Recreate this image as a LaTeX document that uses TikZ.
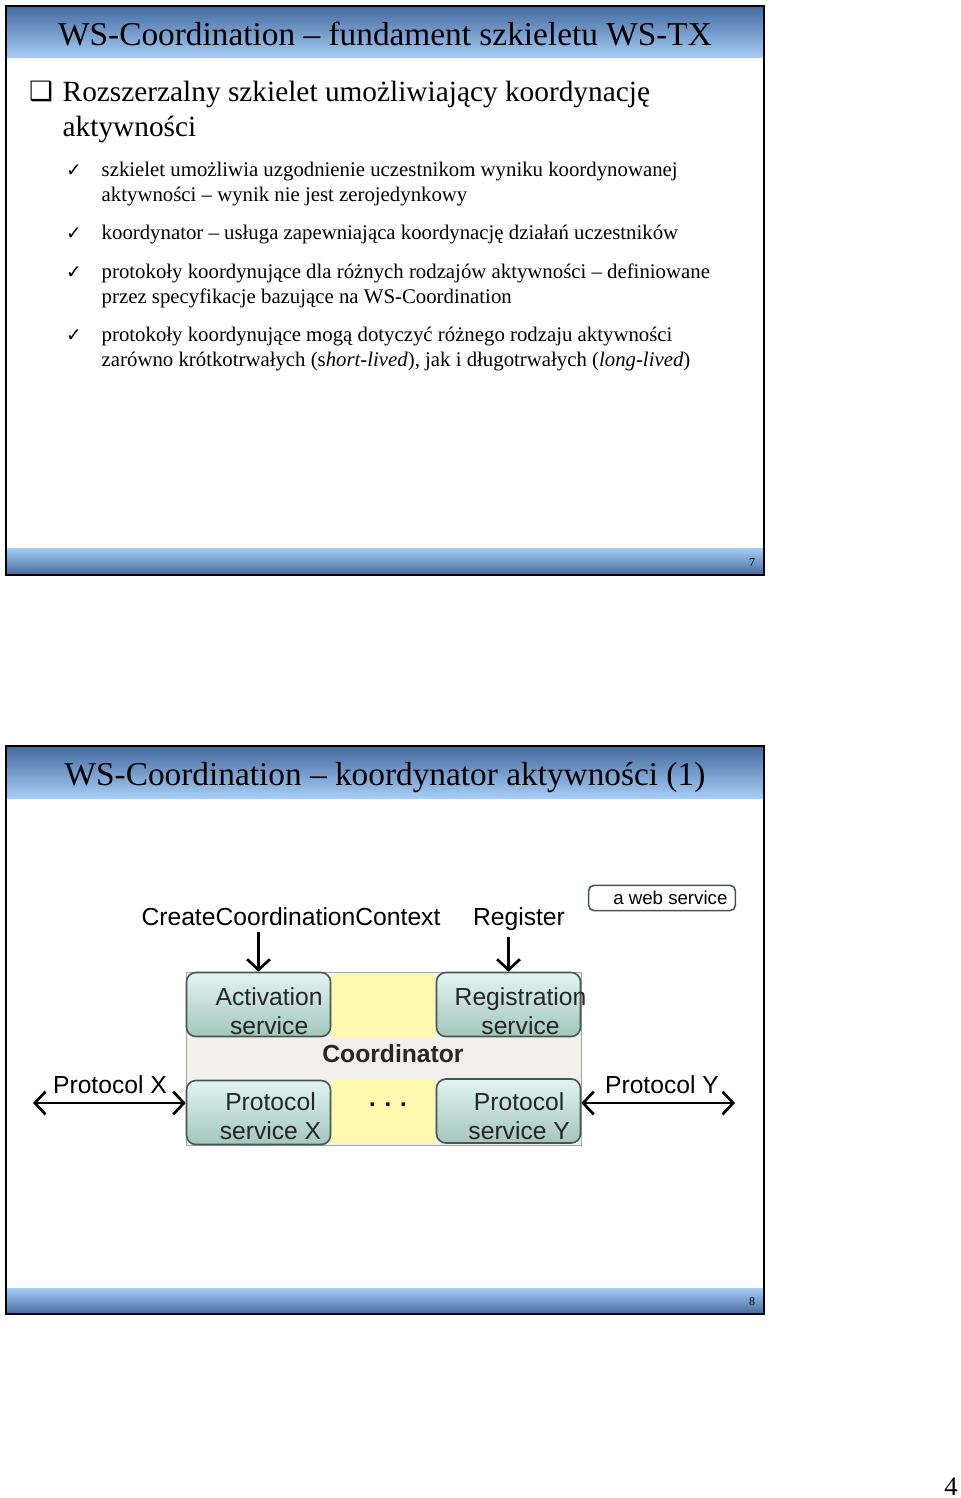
\documentclass[tikz,border=0pt]{standalone}
\usepackage{fontspec}
\setmainfont{Liberation Serif}
\newfontfamily\diafont{Liberation Sans}
\newfontfamily\symfont{DejaVu Sans}
\usetikzlibrary{arrows.meta,positioning,calc}
\definecolor{bardark}{HTML}{44699F}
\definecolor{barlight}{HTML}{A6CDF6}
\definecolor{boxtop}{HTML}{E2F4F3}
\definecolor{boxbot}{HTML}{A3C6BD}
\definecolor{boxline}{HTML}{46564F}
\definecolor{coordfill}{HTML}{F1F0EC}
\definecolor{coordyellow}{HTML}{FDF8AE}

\begin{document}
\begin{tikzpicture}[x=0.75pt,y=-0.75pt,
  frame/.style={draw=black, line width=1.6pt},
  ttl/.style={anchor=base, font=\fontsize{25}{28}\selectfont},
  mainpt/.style={anchor=base west, align=left, font=\fontsize{22}{26.25}\selectfont},
  subpt/.style={anchor=base west, align=left, font=\fontsize{15.6}{18.75}\selectfont},
  tick/.style={anchor=base, font=\symfont\fontsize{14}{16}\selectfont},
  pagenum/.style={anchor=base, font=\fontsize{9}{10}\selectfont},
  svc/.style={draw=boxline, line width=1.2pt, rounded corners=7pt, top color=boxtop, bottom color=boxbot, minimum width=108pt, minimum height=48pt},
  svctxt/.style={align=center, text=black!85, font=\diafont\fontsize{18.5}{21.75}\selectfont},
  lbl/.style={anchor=base, font=\diafont\fontsize{18.5}{22}\selectfont},
  arr/.style={-{Straight Barb[length=2.8mm,width=6mm]}, line width=2pt},
  dbl/.style={{Straight Barb[length=2.8mm,width=6mm]}-{Straight Barb[length=2.8mm,width=6mm]}, line width=2pt}
]
  \useasboundingbox (0,0) rectangle (960,1498);

  % slide 7
  \shade[top color=bardark, bottom color=barlight] (6,6) rectangle (764,58);
  \shade[top color=barlight, bottom color=bardark] (6,548) rectangle (764,575);
  \draw[frame] (6,6) rectangle (764,575);
  \node[ttl] (title1) at (385,46) {WS-Coordination -- fundament szkieletu WS-TX};
  \node[anchor=base, font=\symfont\fontsize{20}{22}\selectfont] (sq) at (41,101) {❑};
  \node[mainpt] (main1) at (58,137) {Rozszerzalny szkielet umożliwiający koordynację\\aktywności};
  \node[tick] (t1) at (74,177) {✓};
  \node[subpt] (s1) at (97,202) {szkielet umożliwia uzgodnienie uczestnikom wyniku koordynowanej\\aktywności -- wynik nie jest zerojedynkowy};
  \node[tick] (t2) at (74,240) {✓};
  \node[subpt] (s2) at (97,240) {koordynator -- usługa zapewniająca koordynację działań uczestników};
  \node[tick] (t3) at (74,278) {✓};
  \node[subpt] (s3) at (97,303) {protokoły koordynujące dla różnych rodzajów aktywności -- definiowane\\przez specyfikacje bazujące na WS-Coordination};
  \node[tick] (t4) at (74,341) {✓};
  \node[subpt] (s4) at (97,366) {protokoły koordynujące mogą dotyczyć różnego rodzaju aktywności\\zarówno krótkotrwałych (s\textit{hort-lived}), jak i długotrwałych (\textit{long-lived})};
  \node[pagenum] (p7) at (752,566) {7};

  % slide 8
  \shade[top color=bardark, bottom color=barlight] (6,746) rectangle (764,798);
  \shade[top color=barlight, bottom color=bardark] (6,1288) rectangle (764,1314);
  \draw[frame] (6,746) rectangle (764,1314);
  \node[ttl] (title2) at (385,785) {WS-Coordination -- koordynator aktywności (1)};
  \node[pagenum] (p8) at (752,1305) {8};

  % coordinator
  \filldraw[fill=coordfill, draw=gray!70] (186,972) rectangle (581,1145);
  \fill[coordyellow] (331,973) rectangle (436,1037);
  \fill[coordyellow] (331,1080) rectangle (436,1144);
  \node[svc] (act) at (258.5,1004.5) {};
  \node[svc] (reg) at (508.5,1004.5) {};
  \node[svc] (psx) at (258.5,1112.5) {};
  \node[svc] (psy) at (508.5,1111) {};
  \node[svctxt] (acttxt) at ([xshift=8,yshift=-5]act) {Activation\\service};
  \node[svctxt] (regtxt) at ([xshift=9,yshift=-5]reg) {Registration\\service};
  \node[svctxt] (psxtxt) at ([xshift=9,yshift=-3]psx) {Protocol\\service X};
  \node[svctxt] (psytxt) at ([xshift=8,yshift=-4]psy) {Protocol\\service Y};
  \node[font=\diafont\bfseries\fontsize{18.5}{20}\selectfont, text=black!85] (coord) at (393,1054) {Coordinator};
  \node[font=\diafont\bfseries\fontsize{18}{20}\selectfont] (dots) at (388,1105) {. . .};

  % messages
  \node[lbl] (ccc) at (291,925) {CreateCoordinationContext};
  \node[lbl] (regmsg) at (519,925) {Register};
  \draw[arr] (ccc.south -| act) ++(0,2) coordinate (ccctop) (ccctop) -- (act.north);
  \draw[arr] (regmsg.south -| reg) ++(0,2) coordinate (regtop) (regtop) -- (reg.north);
  \node[lbl] (protx) at (110,1093) {Protocol X};
  \node[lbl] (proty) at (662,1093) {Protocol Y};
  \coordinate (xend) at (33,1103);
  \coordinate (yend) at (735,1103);
  \draw[dbl] (xend) -- (xend -| psx.west);
  \draw[dbl] (yend -| psy.east) -- (yend);

  % legend
  \node[draw=boxline, line width=1.2pt, rounded corners=4pt, minimum width=110pt, minimum height=19pt] (legend) at (662,898) {};
  \node[font=\diafont\fontsize{14}{15}\selectfont, anchor=east] (legtxt) at ([xshift=-3]legend.east) {a web service};

  \node[anchor=base, font=\fontsize{20}{22}\selectfont] (pg) at (951,1495) {4};
\end{tikzpicture}
\end{document}
